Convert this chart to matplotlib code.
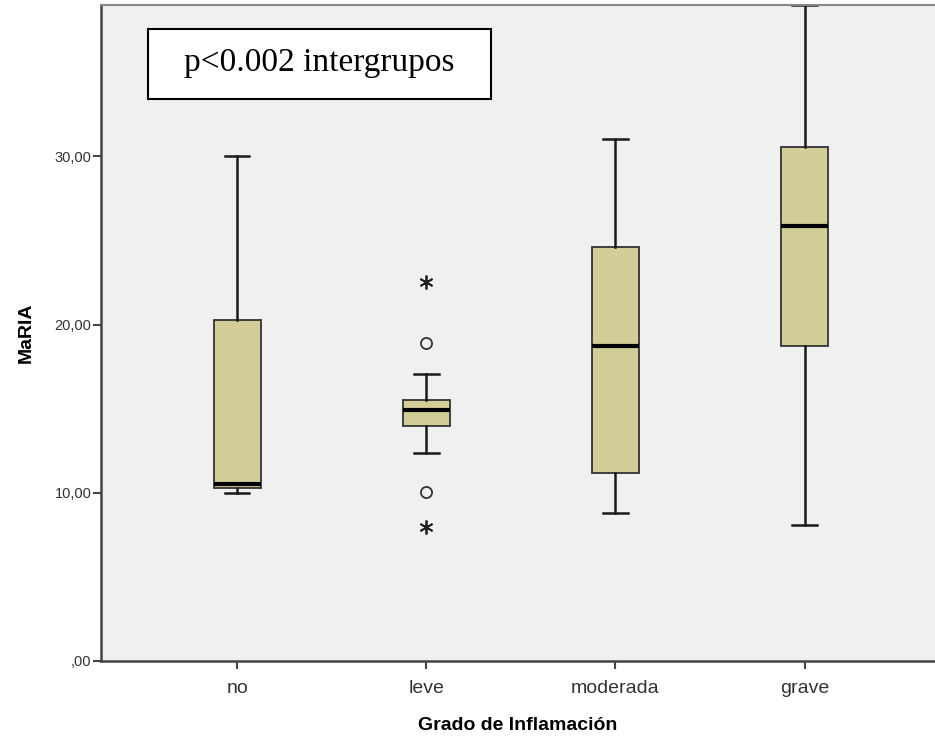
import numpy as np
import matplotlib.pyplot as plt
from matplotlib.patches import Rectangle

plt.rcParams["font.family"] = ["Liberation Sans", "DejaVu Sans"]

# Grado de inflamación vs MaRIA: resumen de cajas
categorias = ["no", "leve", "moderada", "grave"]
minimo = [10.0, 12.35, 8.8, 8.1]
q1 = [10.3, 13.95, 11.15, 18.72]
mediana = [10.5, 14.9, 18.72, 25.85]
q3 = [20.26, 15.5, 24.62, 30.56]
maximo = [30.0, 17.05, 31.03, 39.0]

# valores atípicos (grupo leve)
atipicos_circulo = [18.9, 10.04]
atipicos_estrella = [22.52, 7.96]
grupo_atipicos = 1

fig = plt.figure(figsize=(9.35, 7.5), dpi=100)
ax = fig.add_axes([0.108, 0.1187, 0.892, 0.8746])
ax.set_facecolor("#f0f0f0")

stats = []
for i, cat in enumerate(categorias):
    stats.append(dict(label=cat, whislo=minimo[i], q1=q1[i], med=mediana[i],
                      q3=q3[i], whishi=maximo[i], fliers=[]))

pos = np.arange(len(categorias))
ax.bxp(stats, positions=pos, widths=0.25, patch_artist=True, showfliers=False,
       boxprops=dict(facecolor="#d3ce97", edgecolor="#333333", linewidth=1.3),
       medianprops=dict(color="black", linewidth=3),
       whiskerprops=dict(color="#1a1a1a", linewidth=1.8),
       capprops=dict(color="#1a1a1a", linewidth=1.8),
       capwidths=0.13)

ax.plot([grupo_atipicos] * len(atipicos_circulo), atipicos_circulo, "o",
        ms=8, mfc="none", mec="#333333", mew=1.3, clip_on=False)
ax.plot([grupo_atipicos] * len(atipicos_estrella), atipicos_estrella,
        linestyle="none", marker=(6, 2, 0), ms=10, mec="#222222", mew=1.3,
        clip_on=False)

ax.set_xlim(-0.72, 3.69)
ax.set_ylim(0, 39)
ax.set_yticks([0, 10, 20, 30])
ax.set_yticklabels([",00", "10,00", "20,00", "30,00"], fontsize=10.5, color="#333333")
ax.set_xticks(pos)
ax.set_xticklabels(categorias, fontsize=14, color="#333333")
ax.tick_params(axis="both", direction="out", length=6, width=1.5, color="#444444")
ax.tick_params(axis="y", pad=1)
ax.tick_params(axis="x", pad=8)

ax.spines["right"].set_visible(False)
ax.spines["top"].set_color("#888888")
ax.spines["top"].set_linewidth(1.5)
for s in ["left", "bottom"]:
    ax.spines[s].set_color("#444444")
    ax.spines[s].set_linewidth(1.8)

ax.set_ylabel("MaRIA", fontsize=14, fontweight="bold", labelpad=14)
ax.set_xlabel("Grado de Inflamación", fontsize=14, fontweight="bold", labelpad=14)

ax.add_patch(Rectangle((0.0564, 0.8567), 0.4112, 0.1067, transform=ax.transAxes,
                       facecolor="white", edgecolor="black", linewidth=1.5, zorder=5))
ax.text(0.262, 0.912, "p<0.002 intergrupos", transform=ax.transAxes,
        family="Liberation Serif", fontsize=24, va="center", ha="center", zorder=6)

fig.savefig("out.png", dpi=100)
